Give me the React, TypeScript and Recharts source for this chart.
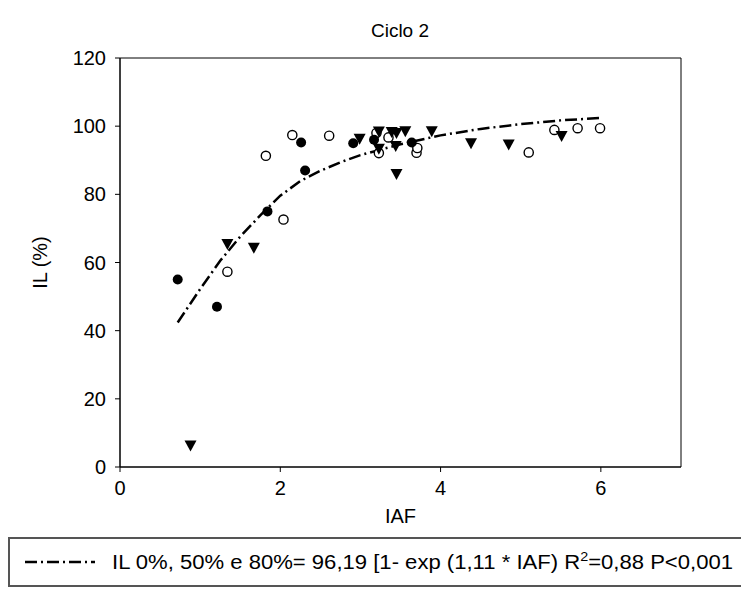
import React from 'react';
import { ScatterChart, Scatter, XAxis, YAxis, ReferenceArea, Legend } from 'recharts';

// IAF / IL (%), one pair of arrays per marker type
const filledIaf = [0.72, 1.21, 1.84, 2.26, 2.31, 2.91, 3.17, 3.64];
const filledIl = [55, 47, 75, 95.2, 87, 95, 96, 95.2];

const openIaf = [1.34, 1.82, 2.04, 2.15, 2.61, 3.2, 3.23, 3.35, 3.7, 3.71, 5.1, 5.42, 5.71, 5.99];
const openIl = [57.3, 91.3, 72.6, 97.4, 97.2, 98, 92.1, 96.7, 92.2, 93.6, 92.3, 98.9, 99.4, 99.4];

const triIaf = [0.88, 1.34, 1.67, 2.99, 3.23, 3.23, 3.39, 3.45, 3.44, 3.45, 3.56, 3.89, 4.38, 4.85, 5.51];
const triIl = [6.3, 65.4, 64.3, 96.3, 98.4, 93.4, 98.3, 98.0, 94.2, 86.0, 98.5, 98.5, 95.0, 94.6, 97.1];

// fitted curve as drawn
const fitIaf = [0.72, 1.0, 1.25, 1.5, 1.75, 2.0, 2.25, 2.5, 2.75, 3.0, 3.5, 4.0, 4.5, 5.0, 5.5, 6.0];
const fitIl = [42.4, 52.2, 60.5, 67.6, 73.8, 79.6, 83.9, 86.9, 89.4, 91.5, 94.7, 97.3, 99.2, 100.6, 101.7, 102.4];

const xTicks = [0, 2, 4, 6];
const yTicks = [0, 20, 40, 60, 80, 100, 120];

const title = 'Ciclo 2';
const legendHead = 'IL 0%, 50% e 80%= 96,19 [1- exp (1,11 * IAF) R';
const legendSup = '2';
const legendTail = '=0,88 P<0,001';

const FONT = "'Liberation Sans', Arial, sans-serif";
const DASH = '12 4 2 4';

const toPoints = (xs: number[], ys: number[]) => xs.map((x, i) => ({ iaf: x, il: ys[i] }));

const FilledDot = (p: any) => <circle cx={p.cx} cy={p.cy} r={5} fill="#000" />;
const OpenDot = (p: any) => <circle cx={p.cx} cy={p.cy} r={4.6} fill="#fff" stroke="#000" strokeWidth={1.4} />;
const DownTri = (p: any) => (
  <polygon points={`${p.cx - 6},${p.cy - 5} ${p.cx + 6},${p.cy - 5} ${p.cx},${p.cy + 6}`} fill="#000" />
);
const NoDot = () => <g />;

const renderLegend = () => (
  <svg width={737} height={50} style={{ display: 'block' }}>
    <rect x={1} y={1} width={735} height={48} fill="#fff" stroke="#555" strokeWidth={2} />
    <line x1={17} x2={87} y1={25} y2={25} stroke="#000" strokeWidth={2.5} strokeDasharray={DASH} />
    <text x={104} y={32} fontSize={20} fontFamily={FONT} fill="#000" textLength={621} lengthAdjust="spacingAndGlyphs">
      {legendHead}
      <tspan dy={-8} fontSize={13}>{legendSup}</tspan>
      <tspan dy={8}>{legendTail}</tspan>
    </text>
  </svg>
);

export default function App() {
  const tickStyle = { fontSize: 20, fontFamily: FONT, fill: '#000' };
  const labelStyle = { fontSize: 20, fontFamily: FONT, fill: '#000' };
  return (
    <div style={{ width: 737, height: 583 }}>
      <ScatterChart width={737} height={583} margin={{ top: 50, right: 64, bottom: 8, left: 0 }}>
        <text x={392} y={29} textAnchor="middle" fontSize={19} fontFamily={FONT} fill="#000">
          {title}
        </text>
        <XAxis
          type="number"
          dataKey="iaf"
          domain={[0, 7]}
          ticks={xTicks}
          height={66}
          tick={tickStyle}
          tickSize={5}
          tickMargin={9}
          stroke="#000"
          label={{ value: 'IAF', position: 'insideBottom', offset: 10, style: labelStyle }}
        />
        <YAxis
          type="number"
          dataKey="il"
          domain={[0, 120]}
          ticks={yTicks}
          width={112}
          tick={tickStyle}
          tickSize={5}
          tickMargin={9}
          stroke="#000"
          label={{
            value: 'IL (%)',
            angle: -90,
            position: 'insideLeft',
            offset: 32,
            style: { ...labelStyle, textAnchor: 'middle' },
          }}
        />
        <ReferenceArea x1={0} x2={7} y1={0} y2={120} fill="none" stroke="#000" strokeWidth={1} />
        <Scatter
          name="fit"
          data={toPoints(fitIaf, fitIl)}
          fill="#000"
          line={{ stroke: '#000', strokeWidth: 2.5, strokeDasharray: DASH }}
          shape={NoDot}
          isAnimationActive={false}
        />
        <Scatter data={toPoints(openIaf, openIl)} shape={OpenDot} isAnimationActive={false} />
        <Scatter data={toPoints(filledIaf, filledIl)} shape={FilledDot} isAnimationActive={false} />
        <Scatter data={toPoints(triIaf, triIl)} shape={DownTri} isAnimationActive={false} />
        <Legend content={renderLegend} wrapperStyle={{ left: 0, top: 529, width: 737, height: 50 }} />
      </ScatterChart>
    </div>
  );
}
